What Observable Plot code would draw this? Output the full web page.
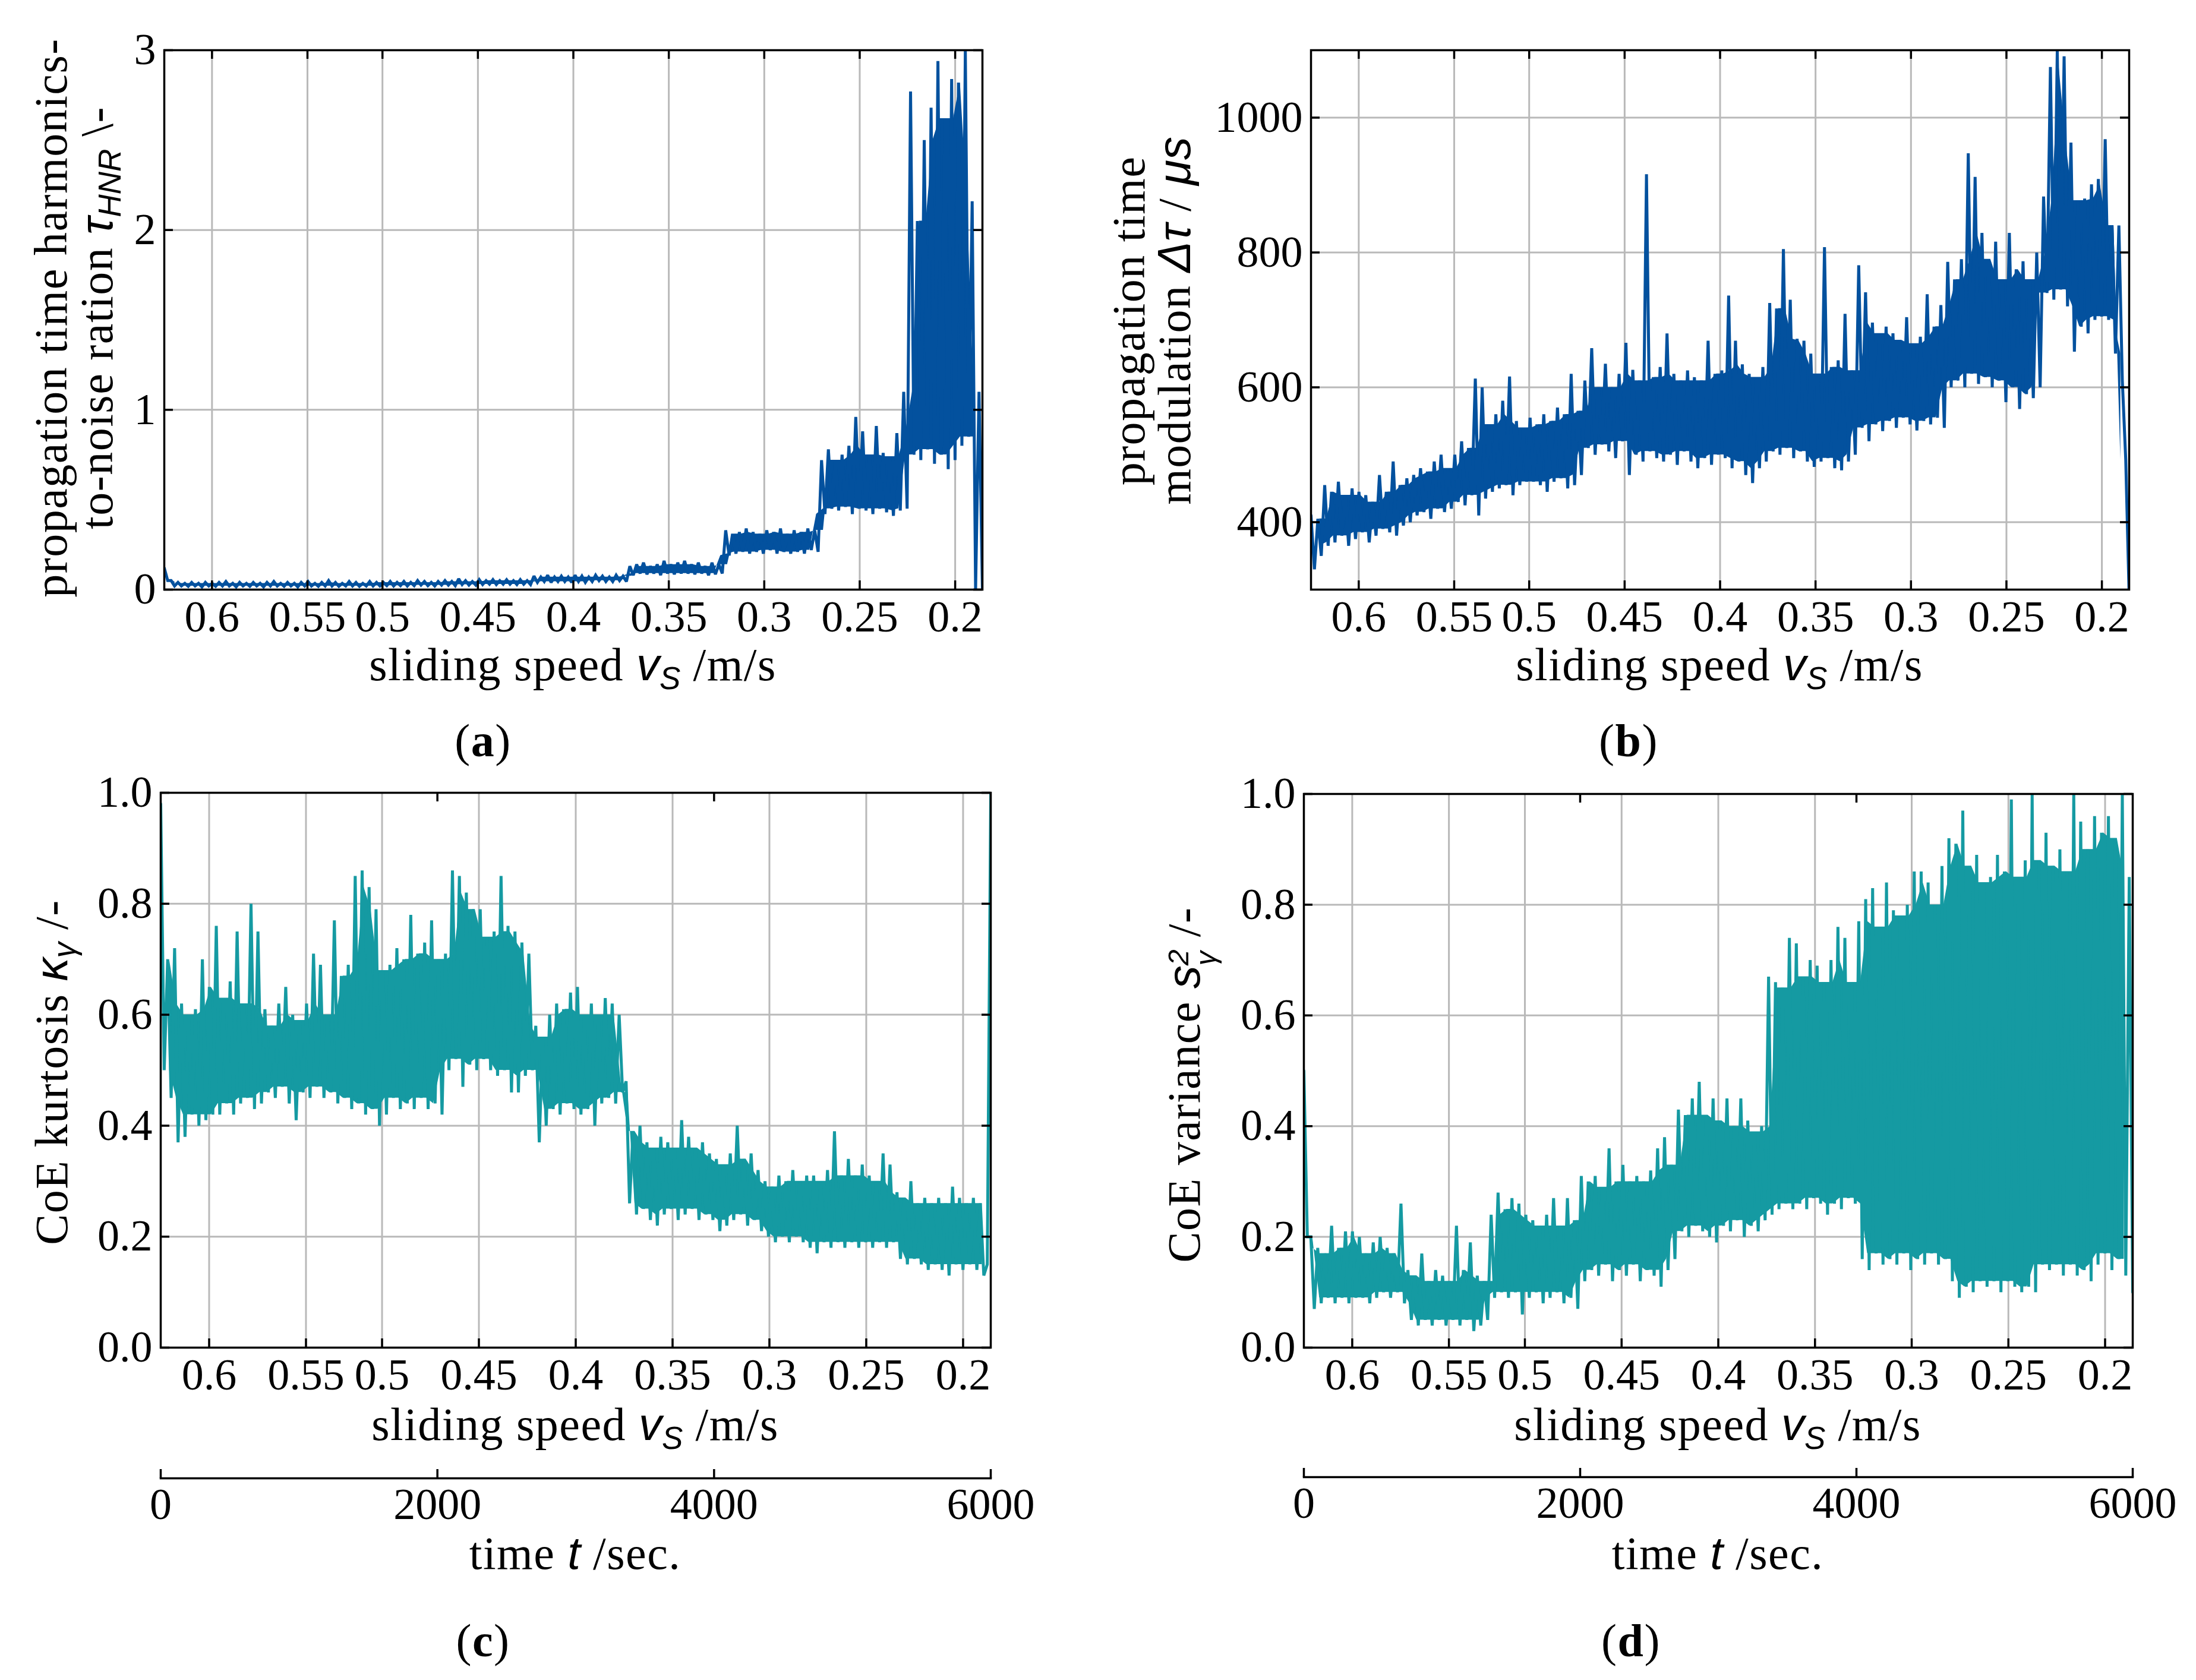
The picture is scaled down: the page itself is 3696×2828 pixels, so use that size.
<!DOCTYPE html>
<html>
<head>
<meta charset="utf-8">
<script src="https://cdn.jsdelivr.net/npm/d3@7"></script>
<script src="https://cdn.jsdelivr.net/npm/@observablehq/plot@0.6"></script>
<style>
  body { margin: 0; background: #fff; }
  #page { position: relative; width: 3696px; height: 2828px; overflow: hidden; background: #fff;
          font-family: "Liberation Serif", serif; color: #000; }
  .panel { position: absolute; }
  .lab { position: absolute; font-size: 78px; letter-spacing: 1.5px; line-height: 1; white-space: nowrap; }
  .ctr { transform: translateX(-50%); }
  .rot { transform: translate(-50%, -50%) rotate(-90deg); text-align: center; line-height: 76px; }
  .m { font-family: "Liberation Sans", sans-serif; font-style: italic; letter-spacing: 0; }
  sub { font-size: 0.68em; vertical-align: -0.28em; line-height: 0; }
  .ss { display: inline-block; font-size: 0.62em; line-height: 0.95em; vertical-align: -0.55em; text-align: left; }
</style>
</head>
<body>
<div id="page">
  <div class="lab rot" style="left:124px; top:535px">propagation time harmonics-<br>to-noise ration <span class="m">τ<sub>HNR</sub></span> \-</div>
  <div class="lab rot" style="left:1938px; top:540px">propagation time<br>modulation <span class="m">Δτ</span> / <span class="m">μs</span></div>
  <div class="lab rot" style="left:86px; top:1805px">CoE kurtosis <span class="m">κ<sub>γ</sub></span> /-</div>
  <div class="lab rot" style="left:2003px; top:1826px">CoE variance <span class="m">s</span><span class="ss m">2<br>γ</span> /-</div>

  <div class="lab ctr" style="left:964px; top:1079px">sliding speed <span class="m">v<sub>S</sub></span> /m/s</div>
  <div class="lab ctr" style="left:2894px; top:1079px">sliding speed <span class="m">v<sub>S</sub></span> /m/s</div>
  <div class="lab ctr" style="left:968px; top:2358px">sliding speed <span class="m">v<sub>S</sub></span> /m/s</div>
  <div class="lab ctr" style="left:2891px; top:2358px">sliding speed <span class="m">v<sub>S</sub></span> /m/s</div>

  <div class="lab ctr" style="left:968px; top:2575px">time <span class="m">t</span> /sec.</div>
  <div class="lab ctr" style="left:2891px; top:2575px">time <span class="m">t</span> /sec.</div>

  <div class="lab ctr" style="left:813px; top:1208px">(<b>a</b>)</div>
  <div class="lab ctr" style="left:2741px; top:1208px">(<b>b</b>)</div>
  <div class="lab ctr" style="left:813px; top:2723px">(<b>c</b>)</div>
  <div class="lab ctr" style="left:2745px; top:2723px">(<b>d</b>)</div>
</div>
<script>
// x runs over the test time; the speed labels sit at these times
const tMax = 6000;
const speedTicks = [350, 1050, 1600, 2300, 3000, 3700, 4400, 5100, 5800];
const speedLabels = ["0.6", "0.55", "0.5", "0.45", "0.4", "0.35", "0.3", "0.25", "0.2"];
const timeTicks = [0, 2000, 4000, 6000];
const topTimeTicks = [2000, 4000];

const yTicksA = [0, 1, 2, 3];
const yTicksB = [400, 600, 800, 1000];
const yTicksCD = [0, 0.2, 0.4, 0.6, 0.8, 1.0];

// successive peaks and troughs of each trace (equal time steps)
const hnr = [
  0.12,0.05, 0.05,0.02, 0.04,0.02, 0.035,0.018, 0.04,0.02, 0.035,0.015, 0.04,0.02, 0.035,0.018, 0.04,0.02, 0.045,0.02,
  0.035,0.015, 0.04,0.02, 0.035,0.018, 0.04,0.02, 0.035,0.015, 0.04,0.02, 0.045,0.02, 0.035,0.018, 0.04,0.02, 0.035,0.015,
  0.04,0.02, 0.045,0.02, 0.035,0.018, 0.04,0.02, 0.05,0.02, 0.04,0.018, 0.035,0.02, 0.045,0.02, 0.04,0.018, 0.035,0.02,
  0.045,0.02, 0.04,0.02, 0.04,0.022, 0.045,0.02, 0.04,0.022, 0.045,0.02, 0.04,0.022, 0.05,0.025, 0.045,0.022, 0.04,0.02,
  0.045,0.025, 0.05,0.025, 0.045,0.022, 0.06,0.028, 0.05,0.025, 0.045,0.025, 0.055,0.028, 0.05,0.03, 0.055,0.028, 0.05,0.03,
  0.055,0.03, 0.05,0.028, 0.055,0.03, 0.05,0.028, 0.075,0.04, 0.07,0.045, 0.08,0.04, 0.07,0.045, 0.075,0.045, 0.07,0.04,
  0.08,0.045, 0.075,0.04, 0.07,0.045, 0.08,0.05, 0.075,0.045, 0.07,0.045, 0.08,0.05, 0.075,0.045, 0.13,0.08, 0.14,0.09,
  0.15,0.085, 0.13,0.09, 0.14,0.08, 0.16,0.09, 0.14,0.085, 0.15,0.09, 0.16,0.09, 0.14,0.085, 0.15,0.09, 0.13,0.08,
  0.15,0.085, 0.14,0.09, 0.33,0.19, 0.31,0.2, 0.32,0.21, 0.34,0.2, 0.32,0.21, 0.31,0.2, 0.33,0.22, 0.32,0.2,
  0.34,0.21, 0.31,0.2, 0.33,0.21, 0.32,0.2, 0.34,0.22, 0.33,0.21, 0.72,0.42, 0.78,0.45, 0.72,0.44, 0.75,0.46,
  0.8,0.42, 0.96,0.45, 0.88,0.44, 0.75,0.42, 0.91,0.45, 0.76,0.43, 0.74,0.41, 0.87,0.44, 1.1,0.45, 2.77,0.75,
  2.05,0.72, 2.5,0.78, 2.68,0.7, 2.94,0.75, 2.62,0.67, 2.84,0.72, 2.82,0.8, 3.0,0.85, 2.16,0, 1.1,0
];
const modulation = [
  410,330, 405,350, 455,365, 445,370, 460,380, 440,365, 450,375, 445,385, 440,370, 430,380,
  470,390, 445,385, 490,380, 455,395, 465,400, 470,410, 480,415, 475,405, 490,420, 500,415,
  480,420, 500,430, 520,425, 510,440, 613,410, 600,435, 545,445, 560,450, 580,455, 616,440,
  550,455, 540,460, 555,460, 545,455, 560,445, 550,460, 570,465, 560,450, 620,455, 565,470,
  610,510, 658,500, 600,515, 635,505, 600,495, 620,520, 666,470, 626,500, 610,490, 916,505,
  615,495, 630,490, 680,500, 620,485, 610,505, 625,490, 615,480, 610,495, 669,485, 620,500,
  625,495, 736,480, 669,490, 634,470, 620,458, 615,480, 630,490, 725,505, 717,500, 805,510,
  730,495, 672,505, 669,490, 650,482, 620,490, 808,495, 630,480, 640,477, 709,490, 625,500,
  781,540, 741,520, 696,545, 680,535, 690,550, 680,540, 670,555, 704,545, 665,536, 675,550,
  738,545, 690,555, 722,540, 786,600, 760,610, 790,600, 947,620, 912,605, 829,615, 790,600,
  816,610, 760,578, 829,600, 775,568, 787,590, 760,584, 800,600, 883,740, 1075,730, 1099,745,
  1091,720, 963,653, 877,690, 880,680, 901,700, 909,705, 968,700, 840,650, 840,610, 493,290
];
const kurtosis = [
  0.98,0.5, 0.70,0.45, 0.72,0.37, 0.62,0.38, 0.60,0.42, 0.61,0.40, 0.70,0.41, 0.65,0.42, 0.76,0.42, 0.63,0.44,
  0.66,0.42, 0.75,0.44, 0.62,0.45, 0.80,0.43, 0.75,0.44, 0.61,0.46, 0.58,0.45, 0.62,0.47, 0.65,0.44, 0.60,0.41,
  0.59,0.46, 0.62,0.45, 0.71,0.47, 0.69,0.45, 0.60,0.46, 0.77,0.44, 0.67,0.45, 0.69,0.43, 0.85,0.44, 0.86,0.42,
  0.83,0.43, 0.79,0.40, 0.68,0.42, 0.69,0.45, 0.72,0.43, 0.70,0.44, 0.78,0.43, 0.71,0.45, 0.73,0.43, 0.77,0.44,
  0.70,0.42, 0.71,0.50, 0.86,0.52, 0.85,0.47, 0.82,0.51, 0.79,0.50, 0.79,0.52, 0.74,0.50, 0.75,0.49, 0.85,0.50,
  0.76,0.46, 0.75,0.46, 0.73,0.49, 0.71,0.50, 0.58,0.37, 0.56,0.40, 0.60,0.43, 0.62,0.42, 0.61,0.44, 0.64,0.43,
  0.65,0.42, 0.60,0.43, 0.62,0.40, 0.60,0.44, 0.63,0.45, 0.62,0.44, 0.60,0.46, 0.48,0.26, 0.39,0.24, 0.40,0.25,
  0.37,0.23, 0.36,0.22, 0.38,0.24, 0.37,0.25, 0.36,0.23, 0.41,0.24, 0.38,0.25, 0.36,0.23, 0.37,0.24, 0.35,0.23,
  0.34,0.21, 0.33,0.22, 0.35,0.23, 0.40,0.24, 0.34,0.22, 0.35,0.23, 0.32,0.21, 0.30,0.20, 0.29,0.19, 0.31,0.20,
  0.30,0.19, 0.32,0.20, 0.30,0.19, 0.31,0.18, 0.31,0.17, 0.30,0.19, 0.32,0.18, 0.39,0.19, 0.31,0.18, 0.34,0.19,
  0.31,0.18, 0.33,0.19, 0.31,0.18, 0.30,0.19, 0.35,0.18, 0.33,0.19, 0.28,0.16, 0.27,0.15, 0.30,0.16, 0.26,0.15,
  0.27,0.14, 0.26,0.15, 0.27,0.14, 0.26,0.13, 0.29,0.15, 0.27,0.14, 0.26,0.15, 0.27,0.14, 0.26,0.13, 0.15,1.0
];
const variance = [
  0.50,0.20, 0.20,0.07, 0.18,0.08, 0.17,0.09, 0.22,0.08, 0.18,0.09, 0.21,0.08, 0.21,0.09, 0.20,0.09, 0.17,0.08,
  0.19,0.09, 0.20,0.10, 0.18,0.09, 0.17,0.10, 0.26,0.08, 0.14,0.05, 0.13,0.04, 0.17,0.05, 0.12,0.04, 0.14,0.05,
  0.13,0.04, 0.12,0.05, 0.22,0.04, 0.14,0.05, 0.19,0.03, 0.13,0.04, 0.12,0.05, 0.24,0.09, 0.28,0.10, 0.25,0.09,
  0.27,0.10, 0.26,0.06, 0.24,0.09, 0.23,0.10, 0.22,0.08, 0.24,0.09, 0.27,0.10, 0.22,0.08, 0.27,0.09, 0.23,0.07,
  0.31,0.12, 0.30,0.14, 0.31,0.13, 0.29,0.15, 0.36,0.12, 0.30,0.14, 0.33,0.13, 0.30,0.15, 0.31,0.12, 0.30,0.14,
  0.32,0.13, 0.36,0.11, 0.38,0.14, 0.33,0.16, 0.43,0.21, 0.42,0.20, 0.45,0.22, 0.48,0.21, 0.42,0.20, 0.45,0.19,
  0.41,0.22, 0.45,0.21, 0.40,0.23, 0.45,0.20, 0.41,0.22, 0.39,0.21, 0.40,0.23, 0.67,0.24, 0.66,0.25, 0.65,0.26,
  0.74,0.25, 0.73,0.26, 0.67,0.25, 0.70,0.27, 0.69,0.26, 0.66,0.24, 0.70,0.26, 0.76,0.25, 0.74,0.27, 0.66,0.26,
  0.77,0.16, 0.81,0.14, 0.83,0.17, 0.76,0.15, 0.84,0.16, 0.79,0.15, 0.78,0.17, 0.80,0.14, 0.86,0.16, 0.86,0.15,
  0.84,0.17, 0.80,0.15, 0.87,0.16, 0.92,0.12, 0.91,0.09, 0.97,0.11, 0.87,0.10, 0.89,0.12, 0.84,0.11, 0.85,0.12,
  0.89,0.10, 0.86,0.12, 0.99,0.11, 0.85,0.10, 0.88,0.11, 1.0,0.10, 0.88,0.15, 0.93,0.14, 0.87,0.15, 0.90,0.13,
  0.86,0.15, 1.0,0.13, 0.95,0.14, 0.90,0.12, 0.96,0.15, 0.93,0.17, 0.96,0.14, 0.92,0.16, 1.0,0.13, 0.85,0.10
];

const blue = "#03519e";
const teal = "#159aa2";
const gridColor = "#b9b9b9";
const fontStyle = {fontFamily: "Liberation Serif, serif", fontSize: "74px", color: "black", background: "transparent", maxWidth: "none", overflow: "visible"};
const speedName = new Map(speedTicks.map((t, i) => [t, speedLabels[i]]));
const page = document.getElementById("page");

function place(node, left, top, width) {
  const div = document.createElement("div");
  div.className = "panel";
  div.style.left = left + "px";
  div.style.top = top + "px";
  div.style.width = width + "px";
  div.appendChild(node);
  page.appendChild(div);
}

// the densely filled part of a noisy trace: between the highest of three
// neighbouring troughs and the lowest of three neighbouring peaks
function denseBand(values) {
  const step = tMax / (values.length - 1);
  const pairs = d3.range(values.length / 2).map(i => {
    const a = values[2 * i], b = values[2 * i + 1];
    return {t: (2 * i + 0.5) * step, top: Math.max(a, b), bottom: Math.min(a, b)};
  });
  return pairs.map((p, i) => {
    if (i === 0 || i === pairs.length - 1) return {t: p.t, top: NaN, bottom: NaN};
    const win = pairs.slice(i - 1, i + 2);
    return {t: p.t, top: d3.min(win, d => d.top), bottom: d3.max(win, d => d.bottom)};
  });
}

function panel({values, color, yDomain, yTicks, yFormat, topTicks, left, top, width, height, mL, mR, mT, mB, sw}) {
  const data = values.map((v, i) => ({t: i * tMax / (values.length - 1), v}));
  const band = denseBand(values);
  const ih = height - mT - mB;
  const iw = width - mL - mR;
  const chart = Plot.plot({
    width, height,
    marginLeft: mL, marginRight: mR, marginTop: mT, marginBottom: mB,
    style: fontStyle,
    x: {domain: [0, tMax]},
    y: {domain: yDomain},
    marks: [
      Plot.gridX(speedTicks, {stroke: gridColor, strokeOpacity: 1, strokeWidth: 3}),
      Plot.gridY(yTicks, {stroke: gridColor, strokeOpacity: 1, strokeWidth: 3}),
      Plot.areaY(band, {x: "t", y1: "bottom", y2: "top", fill: color, clip: true}),
      Plot.line(data, {x: "t", y: "v", stroke: color, strokeWidth: sw, strokeLinejoin: "miter", strokeMiterlimit: 2, clip: true}),
      Plot.frame({stroke: "black", strokeWidth: 3.5}),
      // inward ticks on all four sides
      Plot.tickX(speedTicks, {stroke: "black", strokeWidth: 3.5, insetTop: ih - 15}),
      Plot.tickX(topTicks, {stroke: "black", strokeWidth: 3.5, insetBottom: ih - 15}),
      Plot.tickY(yTicks, {stroke: "black", strokeWidth: 3.5, insetRight: iw - 15}),
      Plot.tickY(yTicks, {stroke: "black", strokeWidth: 3.5, insetLeft: iw - 15}),
      Plot.axisX(speedTicks, {tickSize: 0, tickPadding: 18, tickFormat: d => speedName.get(d), label: null}),
      Plot.axisY(yTicks, {tickSize: 0, tickPadding: 14, tickFormat: yFormat, label: null})
    ]
  });
  place(chart, left, top, width);
}

function timeAxis({left, top, width, mL, mR}) {
  const chart = Plot.plot({
    width, height: 110,
    marginLeft: mL, marginRight: mR, marginTop: 3, marginBottom: 92,
    style: fontStyle,
    x: {domain: [0, tMax]},
    marks: [
      Plot.frame({anchor: "bottom", stroke: "black", strokeWidth: 3.5}),
      Plot.tickX(timeTicks, {stroke: "black", strokeWidth: 3.5}),
      Plot.axisX(timeTicks, {tickSize: 0, tickPadding: 16, tickFormat: d => String(d), label: null})
    ]
  });
  place(chart, left, top, width);
}

panel({values: hnr, color: blue, yDomain: [0, 3], yTicks: yTicksA, yFormat: d => String(d), topTicks: speedTicks,
  left: 0, top: 0, width: 1700, height: 1090, mL: 276, mR: 47, mT: 84, mB: 98, sw: 5});
panel({values: modulation, color: blue, yDomain: [300, 1100], yTicks: yTicksB, yFormat: d => String(d), topTicks: speedTicks,
  left: 1860, top: 0, width: 1780, height: 1090, mL: 346, mR: 57, mT: 84, mB: 98, sw: 5});
panel({values: kurtosis, color: teal, yDomain: [0, 1], yTicks: yTicksCD, yFormat: d3.format(".1f"), topTicks: topTimeTicks,
  left: 0, top: 1250, width: 1720, height: 1120, mL: 270, mR: 53, mT: 84, mB: 102, sw: 5});
panel({values: variance, color: teal, yDomain: [0, 1], yTicks: yTicksCD, yFormat: d3.format(".1f"), topTicks: topTimeTicks,
  left: 1860, top: 1250, width: 1780, height: 1120, mL: 334, mR: 51, mT: 86, mB: 102, sw: 5});

timeAxis({left: 0, top: 2470, width: 1760, mL: 270, mR: 93});
timeAxis({left: 1860, top: 2468, width: 1800, mL: 334, mR: 1800 - 1729});
</script>
</body>
</html>
